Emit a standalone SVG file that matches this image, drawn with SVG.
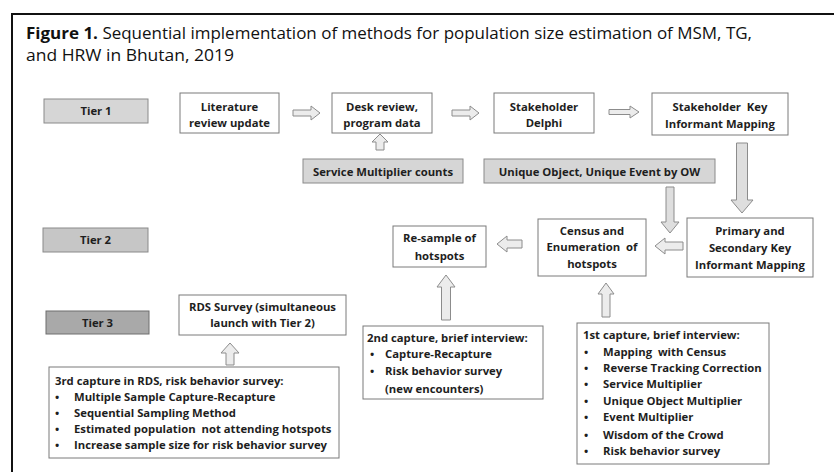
<svg xmlns="http://www.w3.org/2000/svg" width="834" height="472" viewBox="0 0 834 472">
<style>
.bx{fill:#ffffff;stroke:#7a7a7a;stroke-width:1}
.g1{fill:#d6d6d6;stroke:#8a8a8a;stroke-width:1}
.g2{fill:#c6c6c6;stroke:#8a8a8a;stroke-width:1}
.g3{fill:#a9a9a9;stroke:#6e6e6e;stroke-width:1}
.t{font-family:"Open Sans","Noto Sans","Liberation Sans",sans-serif;font-size:11.3px;font-weight:bold;fill:#1e1e1e}
.c{text-anchor:middle}
.ar{fill:#ececec;stroke:#8c8c8c;stroke-width:1}
.ti{font-family:"Open Sans","Noto Sans","Liberation Sans",sans-serif;font-size:16.5px;fill:#111}
</style>
<rect x="0" y="0" width="834" height="472" fill="#ffffff"/>
<path d="M12,472 L12,14 L834,14" fill="none" stroke="#111" stroke-width="2"/>
<g id="title">
<text class="ti" x="26" y="39" textLength="726" lengthAdjust="spacingAndGlyphs"><tspan font-weight="bold">Figure 1.</tspan> Sequential implementation of methods for population size estimation of MSM, TG,</text>
<text class="ti" x="26" y="61" textLength="208" lengthAdjust="spacingAndGlyphs">and HRW in Bhutan, 2019</text>
</g>
<g id="tier1"><rect class="g1" x="44" y="99" width="104" height="24"/><text class="t c" x="96" y="115">Tier 1</text></g>
<g id="tier2"><rect class="g2" x="43" y="228" width="105" height="24"/><text class="t c" x="95.5" y="244">Tier 2</text></g>
<g id="tier3"><rect class="g3" x="46" y="311" width="103" height="23"/><text class="t c" x="97.5" y="327">Tier 3</text></g>
<g id="literature"><rect class="bx" x="180" y="93" width="99" height="40"/><text class="t c" x="229.5" y="111">Literature</text><text class="t c" x="229.5" y="127">review update</text></g>
<g id="desk"><rect class="bx" x="332" y="93" width="100" height="40"/><text class="t c" x="382" y="111">Desk review,</text><text class="t c" x="382" y="127">program data</text></g>
<g id="delphi"><rect class="bx" x="494" y="93" width="100" height="40"/><text class="t c" x="544" y="111">Stakeholder</text><text class="t c" x="544" y="127">Delphi</text></g>
<g id="skim"><rect class="bx" x="652" y="93" width="136" height="42"/><text class="t c" x="720" y="111" xml:space="preserve">Stakeholder  Key</text><text class="t c" x="720" y="128">Informant Mapping</text></g>
<g id="service"><rect class="g1" x="303" y="159" width="160" height="24"/><text class="t c" x="383" y="176">Service Multiplier counts</text></g>
<g id="unique"><rect class="g1" x="484" y="159" width="231" height="24"/><text class="t c" x="599.5" y="176">Unique Object, Unique Event by OW</text></g>
<g id="primary"><rect class="bx" x="687" y="218" width="126" height="59"/><text class="t c" x="750" y="235">Primary and</text><text class="t c" x="750" y="252">Secondary Key</text><text class="t c" x="750" y="269">Informant Mapping</text></g>
<g id="census"><rect class="bx" x="538" y="219" width="108" height="57"/><text class="t c" x="592" y="235">Census and</text><text class="t c" x="592" y="251" xml:space="preserve">Enumeration  of</text><text class="t c" x="592" y="268">hotspots</text></g>
<g id="resample"><rect class="bx" x="393" y="226" width="93" height="41"/><text class="t c" x="439.5" y="242">Re-sample of</text><text class="t c" x="439.5" y="260">hotspots</text></g>
<g id="rds"><rect class="bx" x="179" y="295" width="167" height="40"/><text class="t c" x="262.5" y="311">RDS Survey (simultaneous</text><text class="t c" x="262.5" y="327">launch with Tier 2)</text></g>
<g id="capture3"><rect class="bx" x="49" y="367" width="290" height="91"/>
<text class="t" x="55" y="385">3rd capture in RDS, risk behavior survey:</text>
<text class="t" x="55" y="401">•</text><text class="t" x="74" y="401">Multiple Sample Capture-Recapture</text>
<text class="t" x="55" y="417">•</text><text class="t" x="74" y="417">Sequential Sampling Method</text>
<text class="t" x="55" y="433">•</text><text class="t" x="74" y="433" xml:space="preserve">Estimated population  not attending hotspots</text>
<text class="t" x="55" y="449">•</text><text class="t" x="74" y="449">Increase sample size for risk behavior survey</text>
</g>
<g id="capture2"><rect class="bx" x="363" y="326" width="180" height="73"/>
<text class="t" x="367" y="342">2nd capture, brief interview:</text>
<text class="t" x="370" y="358">•</text><text class="t" x="385" y="358">Capture-Recapture</text>
<text class="t" x="370" y="375">•</text><text class="t" x="385" y="375">Risk behavior survey</text>
<text class="t" x="385" y="393">(new encounters)</text>
</g>
<g id="capture1"><rect class="bx" x="577" y="323" width="192" height="141"/>
<text class="t" x="583" y="339">1st capture, brief interview:</text>
<text class="t" x="584" y="356">•</text><text class="t" x="603" y="356" xml:space="preserve">Mapping  with Census</text>
<text class="t" x="584" y="372">•</text><text class="t" x="603" y="372">Reverse Tracking Correction</text>
<text class="t" x="584" y="388">•</text><text class="t" x="603" y="388">Service Multiplier</text>
<text class="t" x="584" y="405">•</text><text class="t" x="603" y="405">Unique Object Multiplier</text>
<text class="t" x="584" y="421">•</text><text class="t" x="603" y="421">Event Multiplier</text>
<text class="t" x="584" y="439">•</text><text class="t" x="603" y="439">Wisdom of the Crowd</text>
<text class="t" x="584" y="455">•</text><text class="t" x="603" y="455">Risk behavior survey</text>
</g>
<g id="connectors">
<path class="ar" d="M293,110 L311,110 L311,106 L320,113 L311,120 L311,116 L293,116 Z"/>
<path class="ar" d="M452,110 L470,110 L470,106 L479,113 L470,120 L470,116 L452,116 Z"/>
<path class="ar" d="M609,109.5 L630,109.5 L630,106 L639,112 L630,118 L630,114.5 L609,114.5 Z"/>
<path class="ar" d="M376,150 L376,142 L372,142 L380,134 L388,142 L384,142 L384,150 Z"/>
<path class="ar" d="M736.5,143 L736.5,200 L731,200 L742,213 L753,200 L747.5,200 L747.5,143 Z" style="fill:#dedede"/>
<path class="ar" d="M666,187 L666,222 L661,222 L670,233 L679,222 L674,222 L674,187 Z" style="fill:#dedede"/>
<path class="ar" d="M683,242 L665,242 L665,238 L655,246 L665,254 L665,250 L683,250 Z"/>
<path class="ar" d="M522,240 L507,240 L507,236 L497,244 L507,252 L507,248 L522,248 Z"/>
<path class="ar" d="M441.5,320 L441.5,287 L437,287 L446,275 L455,287 L450.5,287 L450.5,320 Z"/>
<path class="ar" d="M602,317 L602,294 L598,294 L606,283 L614,294 L610,294 L610,317 Z"/>
<path class="ar" d="M226,365 L226,353 L221,353 L230,343 L239,353 L234,353 L234,365 Z"/>
</g>
</svg>
